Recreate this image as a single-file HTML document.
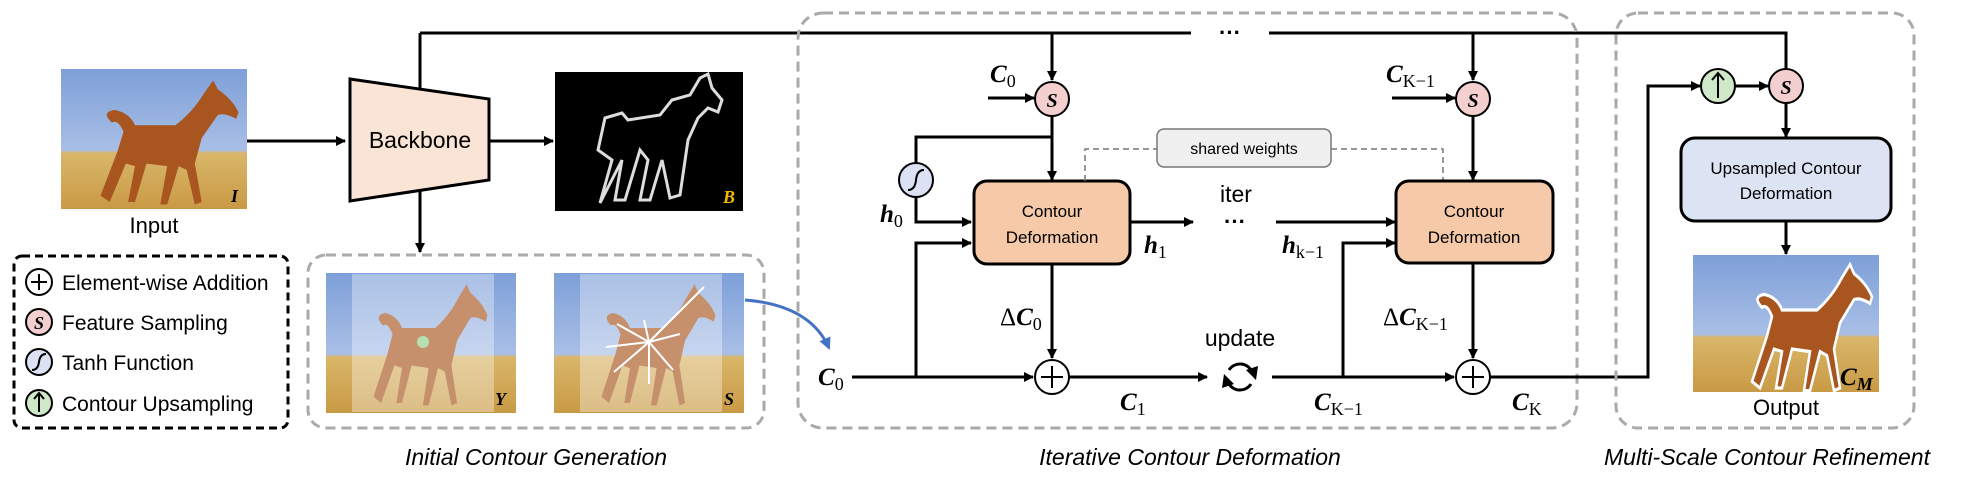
<!DOCTYPE html>
<html><head><meta charset="utf-8"><style>
html,body{margin:0;padding:0;background:#fff;}
svg{display:block;}
.t{font-family:"Liberation Sans",sans-serif;fill:#000;}
.m{font-family:"Liberation Serif",serif;font-style:italic;font-weight:bold;fill:#000;}
.s{font-family:"Liberation Serif",serif;font-style:normal;font-weight:normal;}
</style></head><body>
<svg width="1980" height="479" viewBox="0 0 1980 479" xmlns="http://www.w3.org/2000/svg">
<defs>
<marker id="a" markerWidth="10" markerHeight="10" refX="9" refY="5" orient="auto" markerUnits="userSpaceOnUse"><path d="M0,0 L10,5 L0,10 z" fill="#000"/></marker>
<marker id="ab" markerWidth="12" markerHeight="12" refX="10" refY="6" orient="auto" markerUnits="userSpaceOnUse"><path d="M0,0 L12,6 L0,12 z" fill="#4472c4"/></marker>
<linearGradient id="sky" x1="0" y1="0" x2="0" y2="1">
<stop offset="0" stop-color="#7d9fd8"/><stop offset="0.58" stop-color="#a9bfe6"/><stop offset="0.6" stop-color="#d9b66a"/><stop offset="1" stop-color="#c99a45"/></linearGradient>
<g id="horse">
<path d="M30,95 L45,60 L50,45 Q45,35 40,38 Q30,30 42,28 Q55,30 60,40 L95,40 Q110,30 120,15 L128,5 L132,12 Q145,20 150,30 L148,35 Q138,30 132,32 L118,50 L112,70 L118,100 L112,102 L105,75 L98,72 L88,102 L82,102 L88,72 L70,70 L60,100 L54,100 L60,72 L52,70 L38,100 Z" fill="#a8551f"/>
</g>
</defs>

<!-- Input image -->
<rect x="61" y="69" width="186" height="140" fill="url(#sky)"/>
<g transform="translate(66,74) scale(1.15,1.28)"><use href="#horse"/></g>
<text x="238" y="202" class="m" font-size="18" text-anchor="end">I</text>
<text x="154" y="233" class="t" font-size="22" text-anchor="middle">Input</text>
<line x1="247" y1="141" x2="345" y2="141" stroke="#000" stroke-width="3" marker-end="url(#a)"/>

<!-- Backbone -->
<polygon points="350,79 489,99 489,180 350,201" fill="#f9e4d6" stroke="#000" stroke-width="3"/>
<text x="420" y="148" class="t" font-size="23" text-anchor="middle">Backbone</text>
<line x1="489" y1="141" x2="553" y2="141" stroke="#000" stroke-width="3" marker-end="url(#a)"/>
<line x1="420" y1="89" x2="420" y2="33" stroke="#000" stroke-width="3"/>
<line x1="420" y1="191" x2="420" y2="252" stroke="#000" stroke-width="3" marker-end="url(#a)"/>

<!-- B image -->
<rect x="555" y="72" width="188" height="139" fill="#000"/>
<path d="M600,203 L612,160 L598,150 L605,118 L622,113 L628,120 L660,115 L672,100 L690,95 L700,78 L708,74 L712,88 L722,100 L718,112 L708,108 L698,118 L688,140 L680,195 L670,198 L662,160 L650,200 L640,200 L648,160 L640,150 L625,200 L615,200 L622,160 Z" fill="none" stroke="#ddd" stroke-width="3"/>
<text x="735" y="203" class="m" font-size="18" style="fill:#f5b800" text-anchor="end">B</text>

<!-- Top line -->
<line x1="420" y1="33" x2="1191" y2="33" stroke="#000" stroke-width="3"/>
<text x="1230" y="40" class="t" font-size="22" font-weight="bold" text-anchor="middle">···</text>
<polyline points="1269,33 1786,33 1786,80" fill="none" stroke="#000" stroke-width="3" marker-end="url(#a)"/>
<line x1="1052" y1="33" x2="1052" y2="80" stroke="#000" stroke-width="3" marker-end="url(#a)"/>
<line x1="1473" y1="33" x2="1473" y2="80" stroke="#000" stroke-width="3" marker-end="url(#a)"/>

<!-- Legend -->
<rect x="14" y="256" width="274" height="172" rx="8" fill="none" stroke="#000" stroke-width="3" stroke-dasharray="8,5"/>
<circle cx="39" cy="282" r="13" fill="#fff" stroke="#000" stroke-width="2"/>
<path d="M31,282 H47 M39,274 V290" stroke="#000" stroke-width="2"/>
<text x="62" y="290" class="t" font-size="21">Element-wise Addition</text>
<circle cx="39" cy="322" r="13" fill="#f3d0cf" stroke="#000" stroke-width="2"/>
<text x="39" y="329" class="m" font-size="18" text-anchor="middle">S</text>
<text x="62" y="330" class="t" font-size="21">Feature Sampling</text>
<circle cx="39" cy="362" r="13" fill="#dbe2f3" stroke="#000" stroke-width="2"/>
<path d="M32,370 Q38,370 39,362 Q40,354 46,354" fill="none" stroke="#000" stroke-width="2"/>
<text x="62" y="370" class="t" font-size="21">Tanh Function</text>
<circle cx="39" cy="403" r="13" fill="#cfe8c8" stroke="#000" stroke-width="2"/>
<path d="M39,412 V394 M34,399 L39,393 L44,399" fill="none" stroke="#000" stroke-width="2"/>
<text x="62" y="411" class="t" font-size="21">Contour Upsampling</text>

<!-- Initial contour generation -->
<rect x="308" y="255" width="456" height="173" rx="18" fill="none" stroke="#aaa" stroke-width="3" stroke-dasharray="10,6"/>
<rect x="326" y="273" width="190" height="140" fill="url(#sky)"/>
<g transform="translate(345,278) scale(0.95,1.25)"><use href="#horse"/></g>
<rect x="352" y="274" width="142" height="138" fill="#fff" opacity="0.35"/>
<circle cx="423" cy="342" r="6" fill="#b7e0b0"/>
<text x="506" y="405" class="m" font-size="18" text-anchor="end">Y</text>
<rect x="554" y="273" width="190" height="140" fill="url(#sky)"/>
<g transform="translate(573,278) scale(0.95,1.25)"><use href="#horse"/></g>
<rect x="580" y="274" width="142" height="138" fill="#fff" opacity="0.35"/>
<g stroke="#fff" stroke-width="2">
<line x1="649" y1="342" x2="704" y2="287"/><line x1="649" y1="342" x2="617" y2="324"/><line x1="649" y1="342" x2="644" y2="320"/><line x1="649" y1="342" x2="680" y2="334"/><line x1="649" y1="342" x2="606" y2="347"/><line x1="649" y1="342" x2="614" y2="372"/><line x1="649" y1="342" x2="649" y2="384"/><line x1="649" y1="342" x2="673" y2="370"/>
</g>
<text x="734" y="405" class="m" font-size="18" text-anchor="end">S</text>
<path d="M745,300 Q810,305 829,348" fill="none" stroke="#4472c4" stroke-width="3" marker-end="url(#ab)"/>
<text x="536" y="465" class="t" font-size="23" font-style="italic" text-anchor="middle">Initial Contour Generation</text>

<!-- Iterative -->
<rect x="798" y="13" width="779" height="415" rx="25" fill="none" stroke="#aaa" stroke-width="3" stroke-dasharray="10,6"/>
<circle cx="1052" cy="99" r="17" fill="#f3d0cf" stroke="#000" stroke-width="2"/>
<text x="1052" y="107" class="m" font-size="20" text-anchor="middle">S</text>
<text x="990" y="82" class="m" font-size="25">C<tspan class="s" font-size="18" dy="5">0</tspan></text>
<line x1="988" y1="98" x2="1034" y2="98" stroke="#000" stroke-width="3" marker-end="url(#a)"/>
<line x1="1052" y1="116" x2="1052" y2="180" stroke="#000" stroke-width="3" marker-end="url(#a)"/>
<polyline points="1052,137 916,137 916,163" fill="none" stroke="#000" stroke-width="3"/>
<circle cx="916" cy="180" r="17" fill="#dbe2f3" stroke="#000" stroke-width="2"/>
<path d="M908,190 Q915,190 916,180 Q917,170 924,170" fill="none" stroke="#000" stroke-width="2"/>
<polyline points="916,197 916,222 971,222" fill="none" stroke="#000" stroke-width="3" marker-end="url(#a)"/>
<text x="880" y="222" class="m" font-size="25">h<tspan class="s" font-size="18" dy="5">0</tspan></text>
<polyline points="916,377 916,243 971,243" fill="none" stroke="#000" stroke-width="3" marker-end="url(#a)"/>
<rect x="974" y="181" width="156" height="83" rx="13" fill="#f6c9a8" stroke="#000" stroke-width="3"/>
<text x="1052" y="217" class="t" font-size="17" text-anchor="middle">Contour</text>
<text x="1052" y="243" class="t" font-size="17" text-anchor="middle">Deformation</text>
<line x1="1052" y1="264" x2="1052" y2="358" stroke="#000" stroke-width="3" marker-end="url(#a)"/>
<text x="1000" y="325" class="m" font-size="25"><tspan class="s">Δ</tspan>C<tspan class="s" font-size="18" dy="5">0</tspan></text>
<line x1="1130" y1="222" x2="1193" y2="222" stroke="#000" stroke-width="3" marker-end="url(#a)"/>
<text x="1144" y="253" class="m" font-size="25">h<tspan class="s" font-size="18" dy="5">1</tspan></text>
<text x="1236" y="202" class="t" font-size="23" text-anchor="middle">iter</text>
<text x="1235" y="229" class="t" font-size="22" font-weight="bold" text-anchor="middle">···</text>
<line x1="1276" y1="222" x2="1395" y2="222" stroke="#000" stroke-width="3" marker-end="url(#a)"/>
<text x="1282" y="253" class="m" font-size="25">h<tspan class="s" font-size="18" dy="5">k−1</tspan></text>
<polyline points="1085,181 1085,149 1157,149" fill="none" stroke="#777" stroke-width="1.5" stroke-dasharray="6,4"/>
<polyline points="1331,149 1443,149 1443,181" fill="none" stroke="#777" stroke-width="1.5" stroke-dasharray="6,4"/>
<rect x="1157" y="129" width="174" height="38" rx="7" fill="#f0f0f0" stroke="#777" stroke-width="1.5"/>
<text x="1244" y="154" class="t" font-size="16" text-anchor="middle">shared weights</text>
<circle cx="1473" cy="99" r="17" fill="#f3d0cf" stroke="#000" stroke-width="2"/>
<text x="1473" y="107" class="m" font-size="20" text-anchor="middle">S</text>
<text x="1386" y="82" class="m" font-size="25">C<tspan class="s" font-size="18" dy="5">K−1</tspan></text>
<line x1="1392" y1="98" x2="1455" y2="98" stroke="#000" stroke-width="3" marker-end="url(#a)"/>
<line x1="1473" y1="116" x2="1473" y2="180" stroke="#000" stroke-width="3" marker-end="url(#a)"/>
<rect x="1396" y="181" width="157" height="82" rx="13" fill="#f6c9a8" stroke="#000" stroke-width="3"/>
<text x="1474" y="217" class="t" font-size="17" text-anchor="middle">Contour</text>
<text x="1474" y="243" class="t" font-size="17" text-anchor="middle">Deformation</text>
<line x1="1473" y1="263" x2="1473" y2="358" stroke="#000" stroke-width="3" marker-end="url(#a)"/>
<text x="1383" y="325" class="m" font-size="25"><tspan class="s">Δ</tspan>C<tspan class="s" font-size="18" dy="5">K−1</tspan></text>
<text x="818" y="385" class="m" font-size="25">C<tspan class="s" font-size="18" dy="5">0</tspan></text>
<line x1="852" y1="377" x2="1033" y2="377" stroke="#000" stroke-width="3" marker-end="url(#a)"/>
<circle cx="1052" cy="377" r="17" fill="#fff" stroke="#000" stroke-width="2"/>
<path d="M1041,377 H1063 M1052,366 V388" stroke="#000" stroke-width="2"/>
<line x1="1069" y1="377" x2="1207" y2="377" stroke="#000" stroke-width="3" marker-end="url(#a)"/>
<text x="1120" y="410" class="m" font-size="25">C<tspan class="s" font-size="18" dy="5">1</tspan></text>
<text x="1240" y="346" class="t" font-size="23" text-anchor="middle">update</text>
<path d="M1229,370 A13,13 0 0 1 1252,372" fill="none" stroke="#000" stroke-width="3"/>
<path d="M1251,384 A13,13 0 0 1 1228,382" fill="none" stroke="#000" stroke-width="3"/>
<path d="M1246,370 L1258,366 L1256,380 Z M1234,384 L1222,388 L1224,374 Z" fill="#000"/>
<line x1="1272" y1="377" x2="1454" y2="377" stroke="#000" stroke-width="3" marker-end="url(#a)"/>
<polyline points="1343,377 1343,243 1395,243" fill="none" stroke="#000" stroke-width="3" marker-end="url(#a)"/>
<text x="1314" y="410" class="m" font-size="25">C<tspan class="s" font-size="18" dy="5">K−1</tspan></text>
<circle cx="1473" cy="377" r="17" fill="#fff" stroke="#000" stroke-width="2"/>
<path d="M1462,377 H1484 M1473,366 V388" stroke="#000" stroke-width="2"/>
<text x="1512" y="410" class="m" font-size="25">C<tspan class="s" font-size="18" dy="5">K</tspan></text>
<text x="1190" y="465" class="t" font-size="23" font-style="italic" text-anchor="middle">Iterative Contour Deformation</text>

<!-- Multi-scale -->
<polyline points="1490,377 1648,377 1648,86 1700,86" fill="none" stroke="#000" stroke-width="3" marker-end="url(#a)"/>
<rect x="1616" y="13" width="298" height="415" rx="22" fill="none" stroke="#aaa" stroke-width="3" stroke-dasharray="10,6"/>
<circle cx="1718" cy="86" r="17" fill="#cfe8c8" stroke="#000" stroke-width="2"/>
<path d="M1718,98 V73 M1712,80 L1718,73 L1724,80" fill="none" stroke="#000" stroke-width="2"/>
<line x1="1735" y1="86" x2="1768" y2="86" stroke="#000" stroke-width="3" marker-end="url(#a)"/>
<circle cx="1786" cy="86" r="17" fill="#f3d0cf" stroke="#000" stroke-width="2"/>
<text x="1786" y="94" class="m" font-size="20" text-anchor="middle">S</text>
<line x1="1786" y1="103" x2="1786" y2="137" stroke="#000" stroke-width="3" marker-end="url(#a)"/>
<rect x="1681" y="138" width="210" height="83" rx="14" fill="#dce3f3" stroke="#000" stroke-width="3"/>
<text x="1786" y="174" class="t" font-size="17" text-anchor="middle">Upsampled Contour</text>
<text x="1786" y="199" class="t" font-size="17" text-anchor="middle">Deformation</text>
<line x1="1786" y1="221" x2="1786" y2="254" stroke="#000" stroke-width="3" marker-end="url(#a)"/>
<rect x="1693" y="255" width="186" height="137" fill="url(#sky)"/>
<g transform="translate(1722,258) scale(1.0,1.3)"><use href="#horse" stroke="#fff" stroke-width="2.5"/></g>
<text x="1840" y="385" class="m" font-size="25">C<tspan font-size="18" dy="5">M</tspan></text>
<text x="1786" y="415" class="t" font-size="22" text-anchor="middle">Output</text>
<text x="1767" y="465" class="t" font-size="23" font-style="italic" text-anchor="middle">Multi-Scale Contour Refinement</text>
</svg>
</body></html>
